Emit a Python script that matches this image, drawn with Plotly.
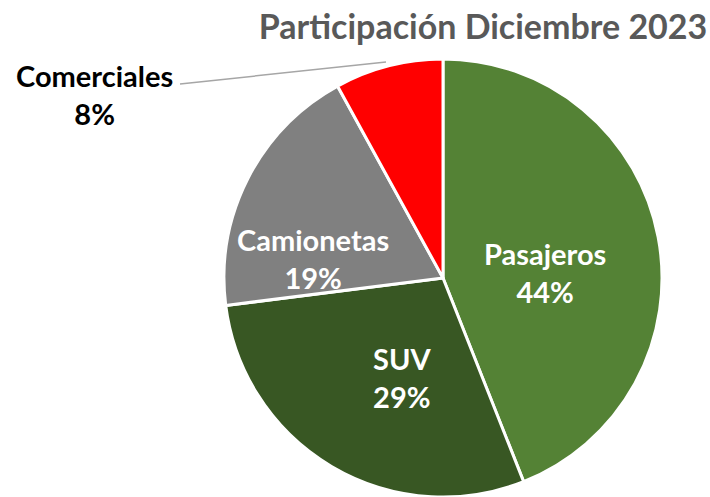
import plotly.graph_objects as go

categories = ["Pasajeros", "SUV", "Camionetas", "Comerciales"]
shares = [44, 29, 19, 8]
colors = ["#548235", "#385723", "#808080", "#FF0000"]
title_text = "Participación Diciembre 2023"

# label placement (pixel centres) and colours
label_pos = [(545, 272), (402, 377), (313, 258), (95, 94)]
label_colors = ["white", "white", "white", "black"]

W, H = 710, 497
font_family = "Lato, 'Open Sans', sans-serif"

fig = go.Figure(go.Pie(
    labels=categories,
    values=shares,
    sort=False,
    direction="clockwise",
    rotation=0,
    marker=dict(colors=colors, line=dict(color="white", width=3)),
    textinfo="none",
    domain=dict(x=[222 / W, 664 / W], y=[0, 1 - 59 / H]),
    hoverinfo="label+percent",
    showlegend=False,
))

for c, v, (px, py), col in zip(categories, shares, label_pos, label_colors):
    fig.add_annotation(
        text=f"<b>{c}<br>{v}%</b>",
        xref="paper", yref="paper", x=px / W, y=1 - py / H,
        xanchor="center", yanchor="middle",
        showarrow=False, align="center",
        font=dict(family=font_family, size=29, color=col),
    )

fig.add_shape(type="line", xref="paper", yref="paper",
              x0=180 / W, y0=1 - 84 / H, x1=386 / W, y1=1 - 62 / H,
              line=dict(color="#A6A6A6", width=1.5))

fig.update_layout(
    width=W, height=H,
    margin=dict(l=0, r=0, t=0, b=0),
    paper_bgcolor="white", plot_bgcolor="white",
    title=dict(text=f"<b>{title_text}</b>", x=483 / W, xanchor="center",
               y=1 - 27 / H, yanchor="middle",
               font=dict(family=font_family, size=34, color="#595959")),
)

fig.write_html("out.html",
               config={"displayModeBar": False},
               post_script="document.body.style.margin='0';document.body.style.overflow='hidden';")
